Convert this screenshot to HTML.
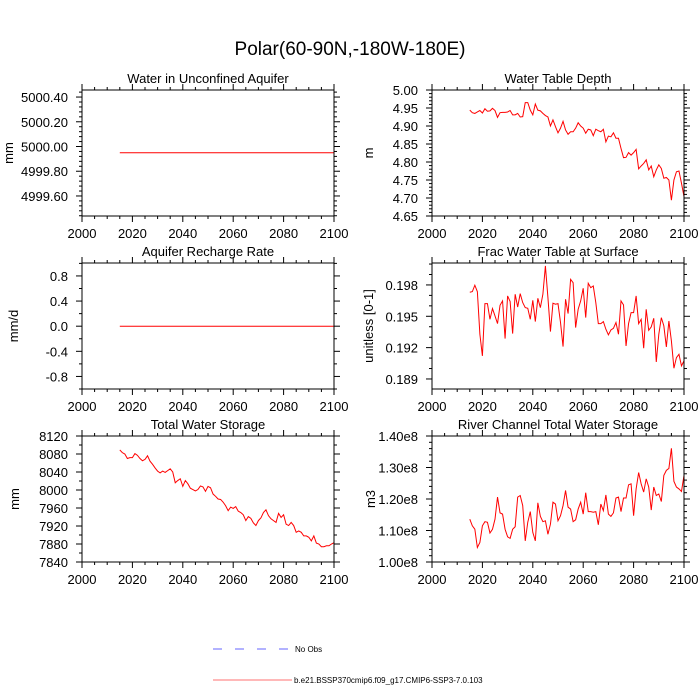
<!DOCTYPE html>
<html><head><meta charset="utf-8"><style>
html,body{margin:0;padding:0;background:#fff;}
svg{display:block;font-family:"Liberation Sans",sans-serif;}
</style></head><body>
<svg id="chart" width="700" height="700" viewBox="0 0 700 700">
<text x="350" y="55" text-anchor="middle" font-size="19">Polar(60-90N,-180W-180E)</text>
<g>
<line x1="213" y1="649" x2="288" y2="649" stroke="#6666ff" stroke-width="1" stroke-dasharray="9,13"/>
<text x="295" y="652" font-size="8">No Obs</text>
<line x1="213" y1="680" x2="292" y2="680" stroke="#ff7070" stroke-width="1"/>
<text x="294" y="683" font-size="8">b.e21.BSSP370cmip6.f09_g17.CMIP6-SSP3-7.0.103</text>
</g>
</svg>
<script>
const years = [];
for (let y = 2015; y <= 2100; y++) years.push(y);
const xTicks = [2000, 2020, 2040, 2060, 2080, 2100];

const aquiferValues = new Array(86).fill(4999.95);
const rechargeValues = new Array(86).fill(0);
const wtdValues = [4.944,4.937,4.935,4.939,4.943,4.936,4.948,4.941,4.942,4.949,4.943,4.924,4.937,4.938,4.938,4.939,4.943,4.931,4.931,4.935,4.925,4.926,4.965,4.965,4.944,4.931,4.961,4.944,4.942,4.935,4.929,4.925,4.900,4.917,4.898,4.881,4.894,4.913,4.889,4.877,4.884,4.884,4.894,4.909,4.900,4.894,4.880,4.891,4.889,4.873,4.891,4.887,4.884,4.891,4.856,4.872,4.870,4.881,4.866,4.866,4.838,4.812,4.813,4.826,4.819,4.826,4.835,4.781,4.789,4.796,4.806,4.778,4.789,4.759,4.778,4.792,4.782,4.755,4.757,4.750,4.694,4.750,4.773,4.775,4.741,4.704];
const fracValues = [0.19730,0.19736,0.19797,0.19736,0.19328,0.19121,0.19621,0.19621,0.19471,0.19574,0.19503,0.19430,0.19605,0.19647,0.19286,0.19695,0.19641,0.19334,0.19711,0.19589,0.19717,0.19631,0.19583,0.19577,0.19471,0.19653,0.19449,0.19672,0.19583,0.19711,0.19982,0.19679,0.19353,0.19625,0.19615,0.19621,0.19440,0.19210,0.19663,0.19526,0.19854,0.19822,0.19392,0.19567,0.19647,0.19768,0.19487,0.19816,0.19774,0.19790,0.19631,0.19430,0.19430,0.19449,0.19376,0.19322,0.19369,0.19385,0.19440,0.19328,0.19647,0.19609,0.19216,0.19430,0.19535,0.19535,0.19695,0.19430,0.19471,0.19194,0.19567,0.19366,0.19398,0.19481,0.19063,0.19328,0.19487,0.19408,0.19207,0.19455,0.19264,0.19003,0.19105,0.19136,0.19025,0.19073];
const twsValues = [8089,8083,8080,8070,8072,8072,8081,8077,8070,8065,8068,8076,8064,8057,8049,8042,8038,8042,8039,8043,8047,8040,8016,8021,8025,8008,8021,8014,8004,8001,7998,8001,8009,8007,7997,8008,8005,7991,7986,7980,7979,7973,7965,7954,7962,7959,7963,7953,7950,7945,7932,7941,7937,7927,7921,7932,7938,7950,7956,7943,7936,7932,7928,7948,7939,7945,7924,7921,7928,7921,7906,7909,7906,7898,7898,7895,7887,7898,7882,7880,7874,7874,7876,7876,7880,7883];
const riverValues = [1.136,1.115,1.104,1.046,1.062,1.115,1.128,1.126,1.092,1.104,1.136,1.206,1.156,1.152,1.104,1.080,1.075,1.104,1.112,1.206,1.211,1.179,1.067,1.126,1.160,1.094,1.067,1.188,1.145,1.128,1.131,1.088,1.120,1.190,1.184,1.131,1.147,1.179,1.227,1.174,1.168,1.128,1.134,1.168,1.190,1.152,1.220,1.160,1.160,1.158,1.160,1.118,1.184,1.163,1.213,1.152,1.145,1.156,1.203,1.206,1.160,1.203,1.203,1.245,1.248,1.147,1.232,1.284,1.248,1.222,1.264,1.238,1.165,1.238,1.211,1.216,1.192,1.275,1.291,1.297,1.361,1.256,1.238,1.232,1.224,1.275];

const aquiferTicks = [5000.40,5000.20,5000.00,4999.80,4999.60];
const wtdTicks = [5.00,4.95,4.90,4.85,4.80,4.75,4.70,4.65];
const rechargeTicks = [0.8,0.4,0.0,-0.4,-0.8];
const fracTicks = [0.198,0.195,0.192,0.189];
const twsTicks = [8120,8080,8040,8000,7960,7920,7880,7840];
const riverTicks = [1.40,1.30,1.20,1.10,1.00];

const NS = 'http://www.w3.org/2000/svg';
const svg = document.getElementById('chart');
function mk(tag, attrs, parent) {
  const e = document.createElementNS(NS, tag);
  for (const k in attrs) e.setAttribute(k, attrs[k]);
  parent.appendChild(e);
  return e;
}

const panels = [
  {id:'aquifer', title:'Water in Unconfined Aquifer', ylab:'mm', lx:13, x0:82, y0:90, ymin:4999.438, ymax:5000.457, ticks:aquiferTicks, vals:aquiferValues, fmt:v=>v.toFixed(2), minor:5},
  {id:'wtd', title:'Water Table Depth', ylab:'m', lx:373, x0:432, y0:90, ymin:4.65, ymax:5.00, ticks:wtdTicks, vals:wtdValues, fmt:v=>v.toFixed(2), minor:5},
  {id:'recharge', title:'Aquifer Recharge Rate', ylab:'mm/d', lx:18, x0:82, y0:263, ymin:-1.0, ymax:1.006, ticks:rechargeTicks, vals:rechargeValues, fmt:v=>v.toFixed(1), minor:2},
  {id:'frac', title:'Frac Water Table at Surface', ylab:'unitless [0-1]', lx:373, x0:432, y0:263, ymin:0.18804, ymax:0.2001, ticks:fracTicks, vals:fracValues, fmt:v=>v.toFixed(3), minor:3},
  {id:'tws', title:'Total Water Storage', ylab:'mm', lx:19, x0:82, y0:436, ymin:7840, ymax:8120, ticks:twsTicks, vals:twsValues, fmt:v=>v.toFixed(0), minor:2},
  {id:'river', title:'River Channel Total Water Storage', ylab:'m3', lx:375, x0:432, y0:436, ymin:1.0, ymax:1.4, ticks:riverTicks, vals:riverValues, fmt:v=>v.toFixed(2)+'e8', minor:5}
];
const W = 252, H = 126;

panels.forEach(p => {
  const g = mk('g', {}, svg);
  
  
  const xs = yr => p.x0 + (yr - 2000) / 100 * W;
  const ys = v => p.y0 + H - (v - p.ymin) / (p.ymax - p.ymin) * H;

  const t = mk('text', {x: p.x0 + W/2, y: p.y0 - 7, 'text-anchor':'middle', 'font-size':13}, g);
  t.textContent = p.title;
  
  

  for (let yr = 2000; yr <= 2100; yr += 5) {
    const major = yr % 20 === 0;
    const L = major ? 6 : 3;
    const x = xs(yr);
    const tb = mk('line', {x1:x, y1:p.y0 + H, x2:x, y2:p.y0 + H + L, stroke:'#000', 'stroke-width':1}, g);
    
    
    const tt = mk('line', {x1:x, y1:p.y0, x2:x, y2:p.y0 - L, stroke:'#000', 'stroke-width':1}, g);
    
    
  }
  xTicks.forEach(yr => {
    const l = mk('text', {x: xs(yr), y: p.y0 + H + 22, 'text-anchor':'middle', 'font-size':13}, g);
    l.textContent = yr;
    
    
  });

  const step = p.ticks[0] - p.ticks[1];
  const ms = step / p.minor;
  const lo = p.ticks[p.ticks.length - 1];
  for (let k = -p.minor * 3; k <= p.ticks.length * p.minor + p.minor * 3; k++) {
    const v = lo + k * ms;
    if (v < p.ymin - 1e-9 || v > p.ymax + 1e-9) continue;
    const major = k % p.minor === 0;
    const L = major ? 6 : 3;
    const y = ys(v);
    const a = mk('line', {x1:p.x0, y1:y, x2:p.x0 - L, y2:y, stroke:'#000', 'stroke-width':1}, g);
    
    
    const b = mk('line', {x1:p.x0 + W, y1:y, x2:p.x0 + W + L, y2:y, stroke:'#000', 'stroke-width':1}, g);
    
    
  }
  p.ticks.forEach(v => {
    const l = mk('text', {x: p.x0 - 14, y: ys(v) + 5, 'text-anchor':'end', 'font-size':13}, g);
    l.textContent = p.fmt(v);
    
    
  });

  const yl = mk('text', {x:0, y:0, 'text-anchor':'middle', 'font-size':13,
    transform:'translate(' + p.lx + ',' + (p.y0 + H/2) + ') rotate(-90)'}, g);
  yl.textContent = p.ylab;
  
  

  const pts = p.vals.map((v, i) => xs(years[i]).toFixed(2) + ',' + ys(v).toFixed(2)).join(' ');
  const pl = mk('polyline', {points: pts, fill:'none', stroke:'#ff0000', 'stroke-width':1}, g);
  
  

  const fr = mk('rect', {x:p.x0, y:p.y0, width:W, height:H, fill:'none', stroke:'#000', 'stroke-width':1}, g);
  
  
});
</script>
</body></html>
